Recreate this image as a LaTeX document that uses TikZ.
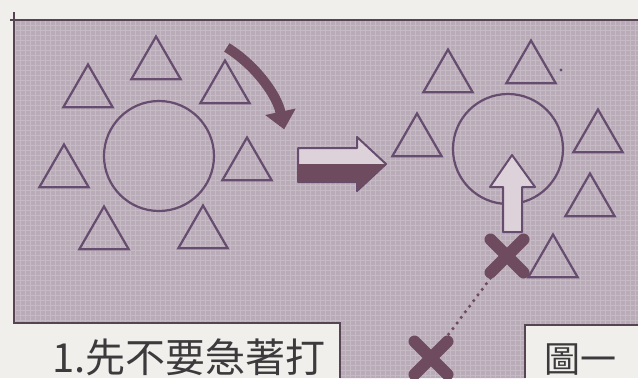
\documentclass[tikz,border=0pt]{standalone}
\usepackage{fontspec}
\newfontfamily\cjk{Noto Sans CJK TC}
\usepackage{xcolor}
\usepackage{tikz}
\usetikzlibrary{shapes.geometric,shapes.misc,arrows.meta}
\definecolor{papel}{HTML}{F1EFEB}
\definecolor{gris}{HTML}{B9ABB8}
\definecolor{trama}{HTML}{C6BAC4}
\definecolor{morado}{HTML}{664C6E}
\definecolor{borde}{HTML}{574453}
\definecolor{oscuro}{HTML}{6E4B5E}
\definecolor{claro}{HTML}{DDD2DA}
\definecolor{tinta}{HTML}{3C3A3C}
\tikzset{
  triangulo/.style={regular polygon,regular polygon sides=3,draw=morado,line width=2.2pt,minimum size=57pt,inner sep=0pt},
  bola/.style={circle,draw=morado,line width=2.2pt,minimum size=110pt,inner sep=0pt},
  cruz/.style={cross out,draw=oscuro,line width=12pt,line cap=round,minimum size=21pt,inner sep=0pt},
  puntos/.style={oscuro,line width=3.5pt,line cap=round,dash pattern=on 0pt off 7pt},
  bloque/.style={draw=morado,line width=2pt,fill=claro,line join=round},
  marco/.style={borde,line width=2.5pt},
  texto/.style={font=\cjk\fontsize{40}{40}\selectfont,text=tinta,inner sep=0pt,anchor=base west},
}

\begin{document}
\begin{tikzpicture}[x=1pt,y=-1pt]
  \useasboundingbox[fill=papel] (0,0) rectangle (638,378);
  % zona gris con trama
  \fill[gris] (14,20) -- (638,20) -- (638,325) -- (525,325) -- (525,378) -- (340,378) -- (340,323) -- (14,323) -- cycle;
  \begin{scope}
    \clip (14,20) -- (638,20) -- (638,325) -- (525,325) -- (525,378) -- (340,378) -- (340,323) -- (14,323) -- cycle;
    \foreach \x in {15,20,...,640} \draw[trama,line width=0.7pt] (\x,15) -- (\x,380);
    \foreach \y in {20,25,...,380} \draw[trama,line width=0.7pt] (10,\y) -- (640,\y);
  \end{scope}
  \draw[marco] (10,20) -- (638,20);
  \draw[marco] (14,12) -- (14,323) -- (340,323) -- (340,378);
  \draw[marco] (525,378) -- (525,325) -- (638,325);

  % izquierda
  \node[bola] (bolaizq) at (159,156) {};
  \foreach \x/\y [count=\i] in {156/65,88/93,225/89,64/173,247/166,104/235,203/234}
    \node[triangulo] (ti\i) at (\x,\y) {};
  \draw[oscuro,line width=10pt,-{Triangle[width=30pt,length=18pt]}] (bolaizq.center) ++(-58:128) arc[start angle=-58,end angle=-12,radius=128];

  % flecha del medio
  \draw[bloque] (298,148) -- (357,148) -- (357,137) -- (386,164) -- (357,191) -- (357,182) -- (298,182) -- cycle;
  \fill[oscuro] (298,164) -- (386,164) -- (357,191) -- (357,182) -- (298,182) -- cycle;

  % derecha
  \node[bola] (bolader) at (508,149) {};
  \foreach \x/\y [count=\i] in {448/78,531/69,417/142,598/138,590/202,553/263}
    \node[triangulo] (td\i) at (\x,\y) {};
  \fill[morado] (561,70) circle[radius=1.6];
  \draw[bloque] (512,155) -- (535,187) -- (522,187) -- (522,232) -- (503,232) -- (503,187) -- (490,187) -- cycle;
  \node[cruz] (cruza) at (507,256) {};
  \node[cruz] (cruzb) at (431,358) {};
  \draw[puntos] (cruza) -- (cruzb);

  % textos
  \node[texto] (titulo) at (52,372) {1.先不要急著打};
  \node[texto,font=\cjk\fontsize{36}{36}\selectfont] (figura) at (544,372) {圖一};
\end{tikzpicture}
\end{document}
